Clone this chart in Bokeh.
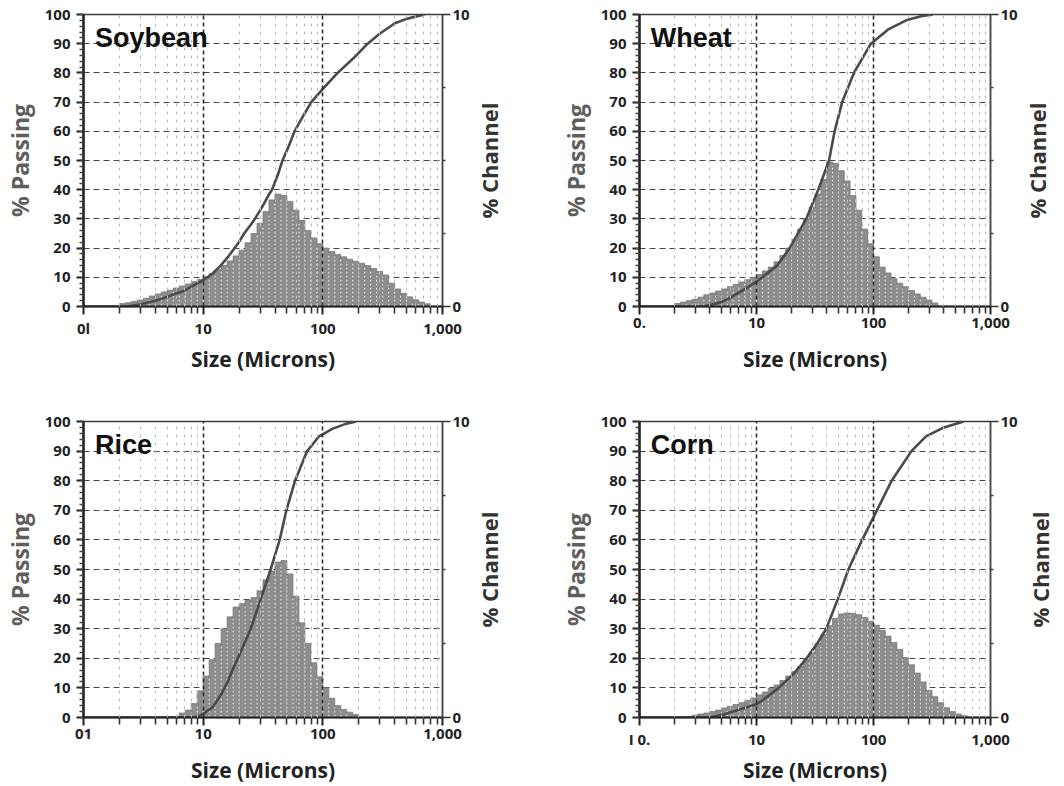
import math
from bokeh.plotting import figure
from bokeh.models import (Range1d, LinearAxis, FixedTicker, SingleIntervalTicker,
                          Label)
from bokeh.layouts import column, row
from bokeh.embed import file_html
from bokeh.resources import INLINE

# ---------------- data ----------------
BINS_PER_DECADE = 20          # instrument channel grid (log-spaced)
x_major = [1, 10, 100, 1000]
x_minor = [2, 3, 4, 5, 6, 7, 8, 9, 20, 30, 40, 50, 60, 70, 80, 90,
           200, 300, 400, 500, 600, 700, 800, 900]
channel_ticks = [0, 10]
channel_minor = [2.5, 5, 7.5]

# Soybean
soy_first_bin = 6
soy_channel = [0.10, 0.13, 0.17, 0.22, 0.28, 0.36, 0.43, 0.50, 0.56, 0.63,
               0.70, 0.77, 0.85, 0.93, 1.02, 1.13, 1.26, 1.40, 1.56, 1.73,
               1.93, 2.18, 2.50, 2.85, 3.25, 3.65, 3.85, 3.80, 3.60, 3.30,
               2.95, 2.60, 2.35, 2.15, 2.00, 1.88, 1.78, 1.70, 1.62, 1.55,
               1.48, 1.40, 1.30, 1.20, 1.08, 0.80, 0.60, 0.45, 0.33, 0.23,
               0.15, 0.09]
soy_size = [1, 2.3, 3, 4, 5, 7, 10, 12, 14, 16, 18, 20, 22, 25, 27, 30, 32,
            35, 37.6, 42, 46, 52, 58, 68, 80, 100, 133, 180, 237, 300, 400,
            500, 705]
soy_passing = [0, 0, 0.8, 2, 3.3, 5.5, 9, 11.3, 14, 16.8, 19.6, 22.2, 25, 28,
               30, 33, 35, 38, 40, 45, 50, 55, 60, 65, 70, 74.5, 80, 85, 90,
               93.5, 97, 98.5, 100]

# Wheat
wheat_first_bin = 6
wheat_channel = [0.10, 0.15, 0.20, 0.25, 0.32, 0.40, 0.46, 0.53, 0.60, 0.68,
                 0.76, 0.84, 0.92, 1.00, 1.10, 1.22, 1.35, 1.53, 1.75, 2.00,
                 2.30, 2.65, 3.00, 3.40, 3.85, 4.35, 4.95, 4.90, 4.65, 4.30,
                 3.80, 3.30, 2.65, 2.15, 1.70, 1.35, 1.15, 0.95, 0.80, 0.68,
                 0.55, 0.43, 0.32, 0.22, 0.12]
wheat_size = [1, 3.5, 4, 5, 6, 8, 10, 11.2, 15, 19.2, 26.6, 33.7, 41.7, 46.5,
              54, 68, 95, 135, 190, 250, 320]
wheat_passing = [0, 0, 0.5, 1.5, 3, 6, 8.5, 10, 14, 20, 30, 40, 50, 60, 70,
                 80, 90, 95, 98, 99.3, 100]

# Rice
rice_first_bin = 16
rice_channel = [0.15, 0.25, 0.47, 0.90, 1.40, 1.95, 2.50, 3.00, 3.40, 3.73,
                3.85, 3.96, 4.05, 4.28, 4.65, 4.95, 5.25, 5.30, 4.85, 4.10,
                3.20, 2.50, 1.85, 1.38, 1.00, 0.65, 0.40, 0.27, 0.18, 0.10]
rice_size = [1, 8, 9, 10, 12, 14, 16, 18, 20, 25, 30, 36.6, 43.6, 49.6, 58.6,
             74, 93, 120, 155, 190]
rice_passing = [0, 0, 0.3, 1.2, 3.5, 7.5, 12, 17, 21, 30, 39.5, 50, 60, 70,
                80, 90, 95, 97.5, 99.2, 100]

# Corn
corn_first_bin = 9
corn_channel = [0.08, 0.12, 0.15, 0.20, 0.25, 0.32, 0.38, 0.44, 0.50, 0.58,
                0.66, 0.76, 0.86, 0.98, 1.10, 1.25, 1.40, 1.55, 1.72, 1.95,
                2.20, 2.50, 2.80, 3.10, 3.35, 3.50, 3.53, 3.52, 3.47, 3.38,
                3.25, 3.12, 2.95, 2.75, 2.53, 2.30, 2.03, 1.78, 1.50, 1.20,
                0.92, 0.70, 0.50, 0.33, 0.20, 0.12, 0.06]
corn_size = [1, 4, 5, 6.3, 8, 10, 11, 15.5, 21, 26.8, 33, 39.5, 49.5, 61, 80,
             107, 143, 211, 281, 400, 590]
corn_passing = [0, 0, 0.8, 2, 3.3, 4.5, 5.5, 10, 15, 20, 25, 30, 40, 50, 60,
                70, 80, 90, 95, 98, 100]

x_labels = {
    "Soybean": ["0l", "10", "100", "1,000"],
    "Wheat": ["0.", "10", "100", "1,000"],
    "Rice": ["01", "10", "100", "1,000"],
    "Corn": ["I 0.", "10", "100", "1,000"],
}
right_title = "% Channel"

TICK_FONT = "Open Sans"
TITLE_FONT = "Liberation Sans"


def make_panel(name, first_bin, channel, sizes, passing, w, h, bl, br, bt, bb,
               xlab_standoff):
    p = figure(width=w, height=h, x_axis_type="log",
               x_range=Range1d(1, 1000), y_range=Range1d(0, 100),
               output_backend="svg", toolbar_location=None,
               min_border_left=bl, min_border_right=br,
               min_border_top=bt, min_border_bottom=bb)
    p.background_fill_color = "white"
    p.border_fill_color = "white"
    p.outline_line_color = "#3a3a3a"
    p.outline_line_width = 1.5
    p.outline_line_alpha = 1.0

    p.extra_y_ranges = {"ch": Range1d(0, 10)}

    # bars (% channel)
    ks = list(range(first_bin, first_bin + len(channel)))
    lo = [10 ** (k / BINS_PER_DECADE) for k in ks]
    hi = [10 ** ((k + 1) / BINS_PER_DECADE) for k in ks]
    p.quad(left=lo, right=hi, bottom=0, top=channel, y_range_name="ch",
           fill_color="#8d8d8d", line_color="#7a7a7a", line_width=0.8)
    sep_x = lo[1:]
    sep_top = [max(min(a, b) - 0.06, 0) for a, b in zip(channel[:-1], channel[1:])]
    p.segment(x0=sep_x, x1=sep_x, y0=[0.03] * len(sep_x), y1=sep_top,
              y_range_name="ch", line_color="white", line_width=1,
              line_dash="2 2", line_alpha=0.9)

    # cumulative % passing
    p.line(sizes, passing, line_color="#4a4a4a", line_width=2.6)

    # x axis
    xt = FixedTicker(ticks=x_major, minor_ticks=x_minor)
    xa = p.below[0]
    xa.ticker = xt
    xa.major_label_overrides = {float(t): s for t, s in zip(x_major, x_labels[name])}
    xa.axis_line_width = 2
    xa.axis_line_color = "#222222"
    xa.major_tick_out = 8
    xa.major_tick_in = 0
    xa.minor_tick_out = 7
    xa.minor_tick_in = 0
    xa.major_tick_line_width = 2
    xa.major_tick_line_color = "#222222"
    xa.minor_tick_line_width = 1.6
    xa.minor_tick_line_color = "#333333"
    xa.major_label_text_font = TICK_FONT
    xa.major_label_text_font_style = "bold"
    xa.major_label_text_font_size = "15px"
    xa.major_label_text_color = "#222222"
    xa.major_label_standoff = 3
    xa.axis_label = "Size (Microns)"
    xa.axis_label_text_font = TICK_FONT
    xa.axis_label_text_font_style = "bold"
    xa.axis_label_text_font_size = "21px"
    xa.axis_label_text_color = "#222222"
    xa.axis_label_standoff = xlab_standoff

    # left axis
    ya = p.left[0]
    yt = SingleIntervalTicker(interval=10, num_minor_ticks=5)
    ya.ticker = yt
    ya.axis_line_width = 2.5
    ya.axis_line_color = "#222222"
    ya.major_tick_out = 7
    ya.major_tick_in = 0
    ya.minor_tick_out = 4
    ya.minor_tick_in = 0
    ya.major_tick_line_width = 2
    ya.major_tick_line_color = "#222222"
    ya.minor_tick_line_width = 1.5
    ya.minor_tick_line_color = "#444444"
    ya.major_label_text_font = TICK_FONT
    ya.major_label_text_font_style = "bold"
    ya.major_label_text_font_size = "15px"
    ya.major_label_text_color = "#222222"
    ya.major_label_standoff = 6
    ya.axis_label = "% Passing"
    ya.axis_label_text_font = TICK_FONT
    ya.axis_label_text_font_style = "bold"
    ya.axis_label_text_font_size = "23px"
    ya.axis_label_text_color = "#5e5e5e"
    ya.axis_label_standoff = 6

    # right axis (% channel): ticks and labels
    ra = LinearAxis(y_range_name="ch",
                    ticker=FixedTicker(ticks=channel_ticks, minor_ticks=channel_minor))
    ra.axis_line_width = 1.5
    ra.axis_line_color = "#4a4a4a"
    ra.major_tick_out = 8
    ra.major_tick_in = 0
    ra.minor_tick_out = 3
    ra.minor_tick_in = 0
    ra.major_tick_line_width = 1.5
    ra.major_tick_line_color = "#333333"
    ra.minor_tick_line_width = 1.5
    ra.minor_tick_line_color = "#444444"
    ra.major_label_text_font = TICK_FONT
    ra.major_label_text_font_style = "bold"
    ra.major_label_text_font_size = "15px"
    ra.major_label_text_color = "#222222"
    ra.major_label_standoff = 2
    p.add_layout(ra, "right")

    # grids
    p.xgrid.ticker = xt
    p.xgrid.grid_line_color = "#2e2e2e"
    p.xgrid.grid_line_width = 1.6
    p.xgrid.grid_line_dash = "4 3"
    p.xgrid.minor_grid_line_color = "#b8b8b8"
    p.xgrid.minor_grid_line_width = 1
    p.xgrid.minor_grid_line_dash = "3 5"
    p.xgrid.level = "annotation"
    p.ygrid.ticker = yt
    p.ygrid.grid_line_color = "#474747"
    p.ygrid.grid_line_width = 1.2
    p.ygrid.grid_line_dash = "6 4"

    # sample name
    p.add_layout(Label(x=1.25, y=92, text=name, text_font=TITLE_FONT,
                       text_font_style="bold", text_font_size="27px",
                       text_color="#111111", text_baseline="middle"))
    return p


def make_side_title(w, h, bt, bb, xpos):
    """Narrow strip holding the right-hand '% Channel' title (reads bottom-to-top)."""
    s = figure(width=w, height=h, x_range=Range1d(0, w), y_range=Range1d(0, 1),
               output_backend="svg", toolbar_location=None,
               x_axis_location=None, y_axis_location=None,
               min_border_left=0, min_border_right=0,
               min_border_top=bt, min_border_bottom=bb)
    s.outline_line_color = None
    s.background_fill_color = "white"
    s.border_fill_color = "white"
    s.xgrid.visible = False
    s.ygrid.visible = False
    s.add_layout(Label(x=xpos, y=0.5, text=right_title, angle=math.pi / 2,
                       text_align="center", text_baseline="middle",
                       text_font=TICK_FONT, text_font_style="bold",
                       text_font_size="22px", text_color="#333333"))
    return s


# left column: plot 472 + strip 58 = 530 ; right column: plot 490 + strip 44 = 534
p1 = make_panel("Soybean", soy_first_bin, soy_channel, soy_size, soy_passing,
                472, 395, 82, 30, 14, 89, 4)
s1 = make_side_title(58, 395, 14, 89, 16)
p2 = make_panel("Wheat", wheat_first_bin, wheat_channel, wheat_size, wheat_passing,
                490, 395, 109, 30, 14, 89, 14)
s2 = make_side_title(44, 395, 14, 89, 16)
p3 = make_panel("Rice", rice_first_bin, rice_channel, rice_size, rice_passing,
                472, 391, 82, 30, 26, 68, 14)
s3 = make_side_title(58, 391, 26, 68, 16)
p4 = make_panel("Corn", corn_first_bin, corn_channel, corn_size, corn_passing,
                490, 391, 109, 30, 26, 68, 4)
s4 = make_side_title(44, 391, 26, 68, 19)

layout = column(row(p1, s1, p2, s2), row(p3, s3, p4, s4))
open("out.html", "w").write(file_html(layout, INLINE))
